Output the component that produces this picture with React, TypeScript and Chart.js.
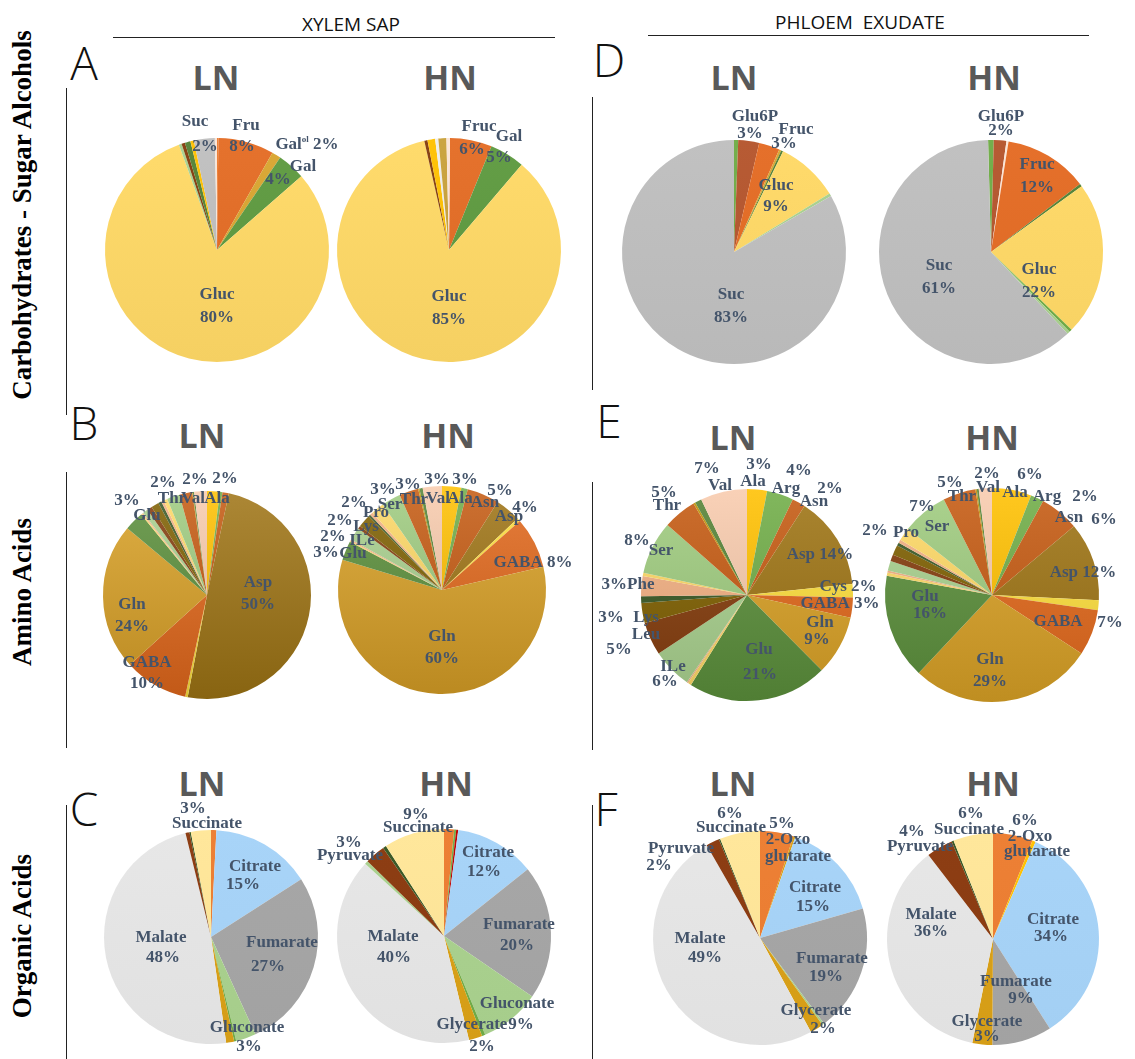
import React, { useEffect, useRef } from "react";
import { Chart, registerables } from "chart.js";

Chart.register(...registerables);

// ---------------- DATA ----------------
// Carbohydrates - sugar alcohols (clockwise from 12 o'clock)
const aLnLabels = ["minor a", "Fru", "Galol", "Gal", "Gluc", "minor b", "minor c", "minor d", "minor e", "Suc", "minor f"];
const aLnValues = [0.2, 8, 1.3, 4, 80.5, 0.4, 0.5, 0.8, 0.5, 3, 0.3];
const aHnLabels = ["Fruc", "Gal", "Gluc", "minor a", "minor b", "minor c", "minor d", "minor e"];
const aHnValues = [6, 5, 84.5, 0.45, 1.1, 0.45, 1.15, 0.5];
const dLnLabels = ["Gal", "Glu6P", "Fruc", "minor a", "minor b", "Gluc", "minor c", "Suc"];
const dLnValues = [0.6, 3, 3, 0.3, 0.3, 9, 0.4, 83];
const dHnLabels = ["Gal", "Glu6P", "minor a", "Fruc", "minor b", "Gluc", "minor c", "minor d", "Suc"];
const dHnValues = [0.8, 1.8, 0.3, 12, 0.4, 22, 0.4, 0.4, 61];

// Amino acids (alphabetical, clockwise from 12 o'clock)
const aminoAcids = ["Ala", "Arg", "Asn", "Asp", "Cys", "GABA", "Gln", "Glu", "Gly", "His", "ILe", "Leu", "Lys", "Met", "Phe", "Pro", "Ser", "Thr", "Trp", "Tyr", "Val"];
const bLnValues = [2, 0.4, 1, 50, 0.4, 10, 23, 3, 0.2, 0.2, 0.8, 0.8, 1.2, 0.5, 0.4, 0.6, 2, 2, 0.1, 0.2, 2];
const bHnValues = [3, 1, 5, 4, 0.5, 8, 58.5, 3, 0.2, 0.2, 2, 0.5, 2, 0.3, 0.5, 2, 3, 3, 0.2, 0.5, 3];
const eLnValues = [3, 4, 2, 14, 2, 3, 9, 21, 0.5, 0.2, 6, 5, 3, 1, 3, 0.5, 8, 5, 0.3, 1, 7];
const eHnValues = [6, 2, 6, 12, 1.5, 7, 28, 16, 0.5, 0.3, 1.5, 1, 1.5, 0.5, 0.5, 2, 7, 5, 0.2, 0.3, 2];

// Organic acids
const cLnLabels = ["2-Oxoglutarate", "Citrate", "Fumarate", "Gluconate", "minor a", "Glycerate", "Malate", "Pyruvate", "minor b", "Succinate"];
const cLnValues = [0.8, 15, 27, 3, 0.3, 1.2, 48, 0.6, 0.2, 3];
const cHnLabels = ["2-Oxoglutarate", "minor a", "minor b", "Citrate", "Fumarate", "Gluconate", "minor c", "Glycerate", "Malate", "minor d", "Pyruvate", "minor e", "Succinate"];
const cHnValues = [1.5, 0.3, 0.3, 12, 20, 9, 0.5, 2, 40, 0.5, 3, 0.5, 9];
const fLnLabels = ["2-Oxoglutarate", "minor a", "Citrate", "Fumarate", "minor b", "Glycerate", "Malate", "Pyruvate", "minor c", "Succinate"];
const fLnValues = [5, 0.3, 15, 19, 0.3, 2, 49, 2, 0.2, 6];
const fHnLabels = ["2-Oxoglutarate", "minor a", "Citrate", "Fumarate", "Glycerate", "Malate", "Pyruvate", "minor b", "Succinate"];
const fHnValues = [6, 0.5, 34, 9, 3, 36, 4, 0.3, 6];

// ---------------- COLOURS ----------------
const aLnColors = ["#ED7D31", "#E46C24", "#D9A530", "#5E9A3F", "#FFD966", "#A9D18E", "#843C0C", "#548235", "#FFC000", "#BFBFBF", "#FBE5D6"];
const aHnColors = ["#E46C24", "#5E9A3F", "#FFD966", "#843C0C", "#FFC000", "#EDEDED", "#C9A13A", "#FBE5D6"];
const dLnColors = ["#70AD47", "#B5562E", "#E46C24", "#D9A530", "#548235", "#FFD966", "#A9D18E", "#BFBFBF"];
const dHnColors = ["#70AD47", "#B5562E", "#FBE5D6", "#E46C24", "#548235", "#FFD966", "#70AD47", "#A9D18E", "#BFBFBF"];
const aminoColors = ["#FFC000", "#70AD47", "#C55A11", "#9E7414", "#FFE03D", "#E2681B", "#D9A126", "#5B8F3B", "#FFD966", "#F4B183", "#A9D18E", "#843C0C", "#7F6000", "#385723", "#F4B183", "#FFD966", "#9FCC7F", "#C55A11", "#BF9000", "#548235", "#F8CBAD"];
const cLnColors = ["#ED7D31", "#A6D3F8", "#A5A5A5", "#A9D18E", "#70AD47", "#D9A016", "#E6E6E6", "#8B3A0F", "#385723", "#FFE699"];
const cHnColors = ["#ED7D31", "#70AD47", "#C00000", "#A6D3F8", "#A5A5A5", "#A9D18E", "#70AD47", "#D9A016", "#E6E6E6", "#A9D18E", "#8B3A0F", "#385723", "#FFE699"];
const fLnColors = ["#ED7D31", "#D9A016", "#A6D3F8", "#A5A5A5", "#A9D18E", "#D9A016", "#E6E6E6", "#8B3A0F", "#385723", "#FFE699"];
const fHnColors = ["#ED7D31", "#FFC000", "#A6D3F8", "#A5A5A5", "#D9A016", "#E6E6E6", "#8B3A0F", "#385723", "#FFE699"];

// ---------------- LABEL LAYOUT (offset from pie centre, px) ----------------
type Lbl = [string, number, number];
const aLnText: Lbl[] = [["Suc", -22, -128], ["2%", -12, -103], ["Fru", 29, -124], ["8%", 25, -103], ["Gal{ol} 2%", 90, -105], ["Gal", 86, -83], ["4%", 61, -70], ["Gluc", 0, 45], ["80%", 0, 68]];
const aHnText: Lbl[] = [["Fruc", 30, -123], ["Gal", 60, -113], ["6%", 23, -100], ["5%", 50, -92], ["Gluc", 0, 47], ["85%", 0, 70]];
const dLnText: Lbl[] = [["Glu6P", 21, -135], ["3%", 16, -118], ["Fruc", 62, -122], ["3%", 50, -108], ["Gluc", 42, -66], ["9%", 42, -45], ["Suc", -3, 43], ["83%", -3, 66]];
const dHnText: Lbl[] = [["Glu6P", 10, -135], ["2%", 10, -121], ["Fruc", 46, -87], ["12%", 46, -64], ["Gluc", 48, 18], ["22%", 48, 41], ["Suc", -52, 14], ["61%", -52, 37]];
const bLnText: Lbl[] = [["3%", -80, -94], ["Glu", -60, -79], ["2%", -44, -112], ["Thr", -35, -96], ["2%", -12, -115], ["Val", -14, -96], ["2%", 18, -116], ["Ala", 10, -96], ["Asp", 51, -12], ["50%", 51, 10], ["Gln", -75, 10], ["24%", -75, 32], ["GABA", -60, 68], ["10%", -60, 89]];
const bHnText: Lbl[] = [["3%", -5, -110], ["Val", -4, -91], ["3%", 23, -110], ["Ala", 18, -91], ["5%", 58, -99], ["Asn", 43, -87], ["4%", 83, -82], ["Asp", 67, -73], ["GABA 8%", 91, -27], ["3%", -34, -105], ["Thr", -28, -90], ["3%", -59, -100], ["Ser", -52, -85], ["2%", -88, -87], ["Pro", -66, -77], ["2%", -102, -69], ["Lys", -76, -63], ["2%", -109, -53], ["ILe", -80, -49], ["3%", -116, -37], ["Glu", -89, -36], ["Gln", 0, 47], ["60%", 0, 69]];
const eLnText: Lbl[] = [["7%", -40, -126], ["Val", -27, -109], ["3%", 12, -130], ["Ala", 6, -113], ["4%", 52, -124], ["Arg", 39, -106], ["2%", 83, -106], ["Asn", 67, -93], ["Asp 14%", 73, -40], ["Cys 2%", 101, -8], ["GABA 3%", 93, 9], ["Gln", 73, 28], ["9%", 70, 45], ["Glu", 12, 55], ["21%", 13, 80], ["ILe", -74, 72], ["6%", -82, 87], ["Leu", -101, 40], ["5%", -128, 55], ["3%", -136, 23], ["Lys", -101, 23], ["3%Phe", -119, -10], ["8%", -110, -54], ["Ser", -86, -44], ["5%", -83, -102], ["Thr", -80, -89]];
const eHnText: Lbl[] = [["2%", -5, -121], ["Val", -4, -107], ["6%", 38, -120], ["Ala", 23, -102], ["Arg", 55, -98], ["2%", 93, -98], ["Asn", 77, -77], ["6%", 112, -75], ["Asp 12%", 91, -22], ["GABA", 66, 27], ["7%", 118, 28], ["Gln", -2, 65], ["29%", -2, 87], ["Glu", -67, 2], ["16%", -62, 19], ["5%", -42, -112], ["Thr", -30, -98], ["7%", -70, -88], ["Ser", -55, -68], ["2%", -117, -64], ["Pro", -86, -62]];
const cLnText: Lbl[] = [["3%", -18, -128], ["Succinate", -4, -113], ["Citrate", 44, -70], ["15%", 32, -52], ["Malate", -50, 1], ["48%", -48, 21], ["Fumarate", 71, 6], ["27%", 57, 30], ["Gluconate", 36, 91], ["3%", 38, 110]];
const cHnText: Lbl[] = [["9%", -28, -121], ["Succinate", -26, -108], ["3%", -95, -93], ["Pyruvate", -94, -80], ["Citrate", 44, -83], ["12%", 40, -64], ["Fumarate", 75, -11], ["20%", 73, 10], ["Malate", -51, 1], ["40%", -50, 22], ["Gluconate", 73, 68], ["Glycerate", 28, 89], ["9%", 77, 89], ["2%", 38, 111]];
const fLnText: Lbl[] = [["6%", -30, -124], ["Succinate", -29, -110], ["5%", 22, -114], ["2-Oxo", 28, -98], ["glutarate", 38, -81], ["Pyruvate", -79, -89], ["2%", -101, -72], ["Citrate", 55, -50], ["15%", 53, -31], ["Malate", -60, 1], ["49%", -55, 20], ["Fumarate", 72, 21], ["19%", 66, 39], ["Glycerate", 56, 73], ["2%", 63, 91]];
const fHnText: Lbl[] = [["6%", -22, -125], ["Succinate", -24, -109], ["6%", 32, -118], ["2-Oxo", 37, -102], ["glutarate", 44, -87], ["4%", -81, -107], ["Pyruvate", -73, -92], ["Malate", -62, -24], ["36%", -62, -7], ["Citrate", 60, -19], ["34%", 58, -2], ["Fumarate", 23, 43], ["9%", 28, 60], ["Glycerate", -6, 83], ["3%", -6, 98]];

interface PieDef {
  key: string; cx: number; cy: number; r: number; rotation: number; shade: number;
  labels: string[]; values: number[]; colors: string[]; texts: Lbl[];
}

const pies: PieDef[] = [
  { key: "aLn", cx: 217, cy: 250, r: 112, rotation: 0, shade: 0.04, labels: aLnLabels, values: aLnValues, colors: aLnColors, texts: aLnText },
  { key: "aHn", cx: 449, cy: 250, r: 112, rotation: 0.5, shade: 0.04, labels: aHnLabels, values: aHnValues, colors: aHnColors, texts: aHnText },
  { key: "dLn", cx: 734, cy: 252, r: 112, rotation: 0, shade: 0.03, labels: dLnLabels, values: dLnValues, colors: dLnColors, texts: dLnText },
  { key: "dHn", cx: 991, cy: 252, r: 112, rotation: -1.5, shade: 0.03, labels: dHnLabels, values: dHnValues, colors: dHnColors, texts: dHnText },
  { key: "bLn", cx: 207, cy: 595, r: 104, rotation: 0, shade: 0.14, labels: aminoAcids, values: bLnValues, colors: aminoColors, texts: bLnText },
  { key: "bHn", cx: 442, cy: 590, r: 104, rotation: 0, shade: 0.14, labels: aminoAcids, values: bHnValues, colors: aminoColors, texts: bHnText },
  { key: "eLn", cx: 747, cy: 595, r: 106, rotation: 0, shade: 0.12, labels: aminoAcids, values: eLnValues, colors: aminoColors, texts: eLnText },
  { key: "eHn", cx: 992, cy: 595, r: 107, rotation: 0, shade: 0.12, labels: aminoAcids, values: eHnValues, colors: aminoColors, texts: eHnText },
  { key: "cLn", cx: 211, cy: 937, r: 107, rotation: 0, shade: 0.02, labels: cLnLabels, values: cLnValues, colors: cLnColors, texts: cLnText },
  { key: "cHn", cx: 444, cy: 936, r: 107, rotation: 0, shade: 0.02, labels: cHnLabels, values: cHnValues, colors: cHnColors, texts: cHnText },
  { key: "fLn", cx: 760, cy: 938, r: 107, rotation: 0, shade: 0.02, labels: fLnLabels, values: fLnValues, colors: fLnColors, texts: fLnText },
  { key: "fHn", cx: 993, cy: 939, r: 106, rotation: 0, shade: 0.02, labels: fHnLabels, values: fHnValues, colors: fHnColors, texts: fHnText },
];

const HALF = 180;
const LABEL_SIZE = 17;
const LABEL_COLOR = "#44546A";

function mix(hex: string, f: number): string {
  const n = parseInt(hex.slice(1), 16);
  let r = (n >> 16) & 255, g = (n >> 8) & 255, b = n & 255;
  const t = f > 0 ? 255 : 0;
  const a = Math.abs(f);
  r = Math.round(r + (t - r) * a);
  g = Math.round(g + (t - g) * a);
  b = Math.round(b + (t - b) * a);
  return `rgb(${r},${g},${b})`;
}

function drawRich(ctx: CanvasRenderingContext2D, text: string, x: number, y: number) {
  const segs: { t: string; sup: boolean }[] = [];
  const re = /\{([^}]*)\}/g;
  let last = 0;
  let m: RegExpExecArray | null;
  while ((m = re.exec(text))) {
    if (m.index > last) segs.push({ t: text.slice(last, m.index), sup: false });
    segs.push({ t: m[1], sup: true });
    last = m.index + m[0].length;
  }
  if (last < text.length) segs.push({ t: text.slice(last), sup: false });
  const normal = `bold ${LABEL_SIZE}px "Liberation Serif", "Times New Roman", serif`;
  const small = `bold ${Math.round(LABEL_SIZE * 0.55)}px "Liberation Serif", "Times New Roman", serif`;
  let total = 0;
  const widths = segs.map((s) => {
    ctx.font = s.sup ? small : normal;
    const w = ctx.measureText(s.t).width;
    total += w;
    return w;
  });
  let px = x - total / 2;
  segs.forEach((s, i) => {
    ctx.font = s.sup ? small : normal;
    ctx.fillText(s.t, px, s.sup ? y - LABEL_SIZE * 0.3 : y);
    px += widths[i];
  });
}

function makeTextPlugin(texts: Lbl[]) {
  return {
    id: "pieTexts",
    afterDraw(chart: any) {
      const meta = chart.getDatasetMeta(0);
      const arc = meta.data[0];
      if (!arc) return;
      const ctx: CanvasRenderingContext2D = chart.ctx;
      ctx.save();
      ctx.fillStyle = LABEL_COLOR;
      ctx.textAlign = "left";
      ctx.textBaseline = "middle";
      for (const [t, dx, dy] of texts) drawRich(ctx, t, arc.x + dx, arc.y + dy);
      ctx.restore();
    },
  };
}

function PieCanvas({ def }: { def: PieDef }) {
  const ref = useRef<HTMLCanvasElement | null>(null);
  useEffect(() => {
    if (!ref.current) return;
    const chart = new Chart(ref.current, {
      type: "pie",
      data: {
        labels: def.labels,
        datasets: [{
          data: def.values,
          backgroundColor: (c: any) => {
            const base = def.colors[c.dataIndex % def.colors.length];
            const area = c.chart.chartArea;
            if (!area || !def.shade) return base;
            const g = c.chart.ctx.createLinearGradient(0, area.top, 0, area.bottom);
            g.addColorStop(0, mix(base, def.shade));
            g.addColorStop(1, mix(base, -def.shade));
            return g;
          },
          borderWidth: 0,
        }],
      },
      options: {
        responsive: false,
        animation: false,
        rotation: def.rotation,
        layout: { padding: HALF - def.r },
        plugins: { legend: { display: false }, tooltip: { enabled: false }, title: { display: false } },
      },
      plugins: [makeTextPlugin(def.texts)],
    } as any);
    return () => chart.destroy();
  }, [def]);
  return (
    <canvas
      ref={ref}
      width={HALF * 2}
      height={HALF * 2}
      style={{ position: "absolute", left: def.cx - HALF, top: def.cy - HALF, width: HALF * 2, height: HALF * 2 }}
    />
  );
}

const titleStyle: React.CSSProperties = {
  position: "absolute", transform: "translate(-50%, -50%)", fontFamily: '"Open Sans", sans-serif',
  fontWeight: 700, fontSize: 34, color: "#595959", whiteSpace: "nowrap", lineHeight: 1,
};
const letterStyle: React.CSSProperties = {
  position: "absolute", transform: "translate(-50%, -50%)", fontFamily: '"Open Sans", sans-serif',
  fontWeight: 300, fontSize: 46, color: "#111", lineHeight: 1,
};
const headerStyle: React.CSSProperties = {
  position: "absolute", transform: "translate(-50%, -50%)", fontFamily: '"Open Sans", sans-serif',
  fontWeight: 400, fontSize: 19, color: "#111", whiteSpace: "pre", lineHeight: 1,
};
const rowStyle: React.CSSProperties = {
  position: "absolute", transform: "translate(-50%, -50%) rotate(-90deg)", fontFamily: '"Liberation Serif", "Times New Roman", serif',
  fontWeight: 700, fontSize: 27, color: "#000", whiteSpace: "nowrap", lineHeight: 1,
};

const titles: [string, number, number][] = [
  ["LN", 216, 77], ["HN", 450, 77], ["LN", 734, 77], ["HN", 994, 77],
  ["LN", 202, 435], ["HN", 448, 435], ["LN", 733, 437], ["HN", 992, 437],
  ["LN", 202, 783], ["HN", 446, 783], ["LN", 733, 783], ["HN", 993, 783],
];
const letters: [string, number, number][] = [
  ["A", 84, 62], ["D", 609, 59], ["B", 84, 422], ["E", 609, 420], ["C", 84, 808], ["F", 606, 808],
];
const rowLabels: [string, number, number][] = [
  ["Carbohydrates - Sugar Alcohols", 22, 215], ["Amino Acids", 22, 592], ["Organic Acids", 22, 936],
];
const hLines: [number, number, number][] = [[113, 555, 38], [648, 1089, 36]];
const vLines: [number, number, number][] = [
  [67, 88, 415], [67, 472, 748], [67, 805, 1059],
  [593, 97, 390], [593, 482, 750], [593, 805, 1059],
];

export default function App() {
  return (
    <div style={{ position: "absolute", left: 0, top: 0, width: 1135, height: 1059, background: "#fff", overflow: "hidden" }}>
      <div style={{ ...headerStyle, left: 351, top: 24 }}>XYLEM SAP</div>
      <div style={{ ...headerStyle, left: 860, top: 22 }}>{"PHLOEM  EXUDATE"}</div>
      {hLines.map(([x1, x2, y], i) => (
        <div key={"h" + i} style={{ position: "absolute", left: x1, top: y - 1, width: x2 - x1, height: 0, borderTop: "1.5px solid #222" }} />
      ))}
      {vLines.map(([x, y1, y2], i) => (
        <div key={"v" + i} style={{ position: "absolute", left: x - 1, top: y1, width: 0, height: y2 - y1, borderLeft: "1.5px solid #222" }} />
      ))}
      {rowLabels.map(([t, x, y], i) => (
        <div key={"r" + i} style={{ ...rowStyle, left: x, top: y }}>{t}</div>
      ))}
      {letters.map(([t, x, y], i) => (
        <div key={"l" + i} style={{ ...letterStyle, left: x, top: y }}>{t}</div>
      ))}
      {titles.map(([t, x, y], i) => (
        <div key={"t" + i} style={{ ...titleStyle, left: x, top: y }}>{t}</div>
      ))}
      {pies.map((p) => (
        <PieCanvas key={p.key} def={p} />
      ))}
    </div>
  );
}
